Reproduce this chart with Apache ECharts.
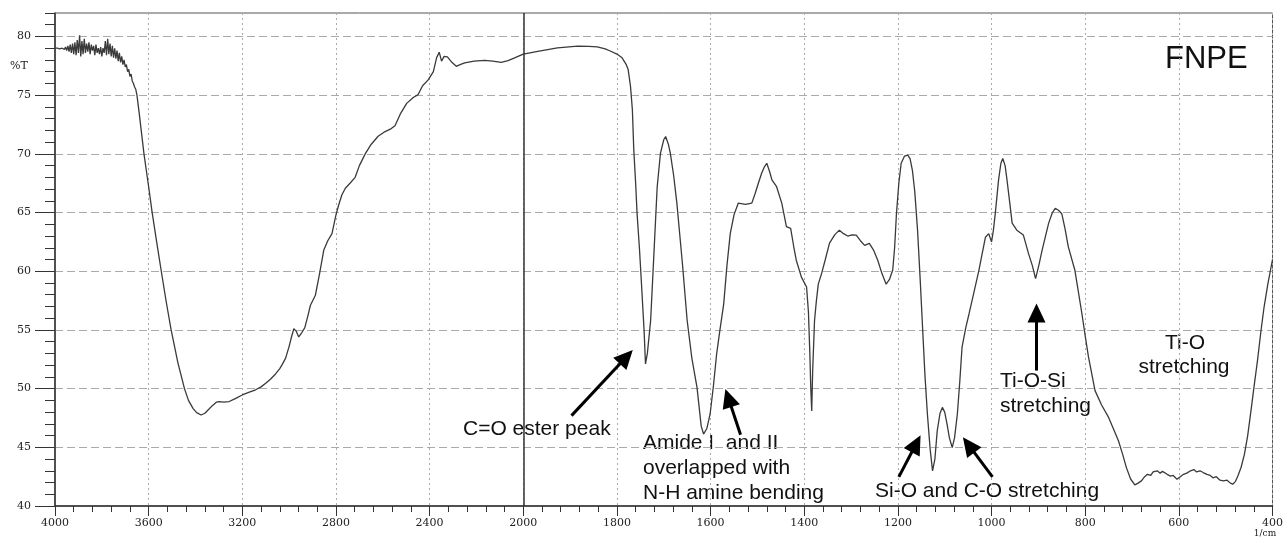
<!DOCTYPE html>
<html>
<head>
<meta charset="utf-8">
<title>FNPE FTIR</title>
<script src="https://cdn.jsdelivr.net/npm/echarts@6/dist/echarts.min.js"></script>
<style>
  html, body { margin: 0; padding: 0; background: #fff; }
  #chart { width: 1286px; height: 539px; }
</style>
</head>
<body>
<div id="chart"></div>
<script>
// x tick labels (1/cm); the axis changes scale at 2000
const xTicks = [4000, 3600, 3200, 2800, 2400, 2000, 1800, 1600, 1400, 1200, 1000, 800, 600, 400]
const yTicks = [40, 45, 50, 55, 60, 65, 70, 75, 80]

// spectrum: [wavenumber, %T]
const spectrum = [
  [4000, 79.0], [3990, 79.0], [3980, 78.95], [3970, 79.0], [3960, 78.9], [3955, 79.1], [3950, 78.8],
  [3945, 79.2], [3940, 78.7], [3935, 79.3], [3930, 78.6], [3925, 79.4], [3920, 78.5], [3915, 79.5],
  [3910, 78.4], [3905, 79.7], [3900, 78.6], [3895, 80.1], [3890, 78.3], [3885, 79.6], [3880, 78.5],
  [3875, 79.8], [3870, 78.6], [3865, 79.4], [3860, 78.7], [3855, 79.5], [3850, 78.5], [3845, 79.3],
  [3840, 78.8], [3835, 79.2], [3830, 78.4], [3825, 79.3], [3820, 78.6], [3815, 79.0], [3810, 78.5],
  [3805, 79.1], [3800, 78.3], [3795, 79.0], [3790, 78.6], [3785, 79.6], [3780, 78.4], [3775, 79.8],
  [3770, 78.5], [3765, 79.4], [3760, 78.3], [3755, 79.2], [3750, 78.2], [3745, 79.0], [3740, 78.1],
  [3735, 78.8], [3730, 77.9], [3725, 78.6], [3720, 77.8], [3715, 78.3], [3710, 77.6], [3705, 78.0],
  [3700, 77.4], [3695, 77.6], [3690, 77.0], [3685, 77.2], [3680, 76.6], [3675, 76.8], [3670, 76.2],
  [3665, 76.0], [3660, 75.7], [3655, 75.5], [3650, 75.0], [3640, 73.4], [3620, 70.0], [3600, 67.2],
  [3585, 65.0], [3565, 62.4], [3546, 60.0], [3525, 57.4], [3504, 55.0], [3475, 52.2], [3447, 50.0],
  [3430, 49.0], [3410, 48.3], [3395, 47.95], [3376, 47.75], [3360, 47.9], [3340, 48.3], [3328, 48.55],
  [3310, 48.85], [3299, 48.9], [3280, 48.85], [3256, 48.9], [3230, 49.15], [3200, 49.46], [3170, 49.7],
  [3143, 49.9], [3120, 50.15], [3100, 50.45], [3080, 50.8], [3058, 51.25], [3040, 51.7], [3031, 52.0],
  [3015, 52.6], [3000, 53.6], [2990, 54.4], [2980, 55.1], [2970, 54.9], [2959, 54.4], [2945, 54.8],
  [2933, 55.2], [2920, 56.2], [2909, 57.1], [2888, 57.95], [2870, 59.8], [2852, 61.8], [2835, 62.6],
  [2817, 63.2], [2800, 64.8], [2789, 65.6], [2775, 66.5], [2760, 67.07], [2740, 67.5], [2718, 68.0],
  [2700, 69.0], [2675, 70.0], [2650, 70.8], [2620, 71.5], [2590, 71.9], [2568, 72.1], [2548, 72.4],
  [2525, 73.4], [2498, 74.3], [2470, 74.8], [2449, 75.05], [2430, 75.8], [2406, 76.3], [2384, 77.0],
  [2370, 78.2], [2359, 78.66], [2349, 77.9], [2338, 78.3], [2324, 78.26], [2305, 77.8], [2286, 77.46],
  [2270, 77.6], [2250, 77.75], [2210, 77.9], [2165, 77.97], [2130, 77.9], [2094, 77.8], [2065, 77.95],
  [2037, 78.18], [2000, 78.5], [1969, 78.74], [1927, 79.03], [1884, 79.17], [1860, 79.15], [1842, 79.12],
  [1825, 78.95], [1813, 78.74], [1800, 78.5], [1789, 78.18], [1780, 77.6], [1776, 77.18], [1771, 75.75],
  [1767, 73.76], [1764, 70.34], [1760, 67.5], [1757, 64.93], [1752, 62.0], [1748, 59.23], [1742, 54.96],
  [1739, 52.1], [1735, 53.0], [1728, 55.8], [1721, 61.5], [1714, 67.2], [1707, 70.06], [1700, 71.2],
  [1696, 71.48], [1690, 70.8], [1686, 70.06], [1679, 68.2], [1672, 65.8], [1660, 60.6], [1650, 55.8],
  [1640, 52.6], [1629, 50.1], [1620, 46.8], [1615, 46.13], [1608, 46.6], [1601, 47.84], [1594, 50.2],
  [1587, 52.97], [1580, 55.0], [1572, 57.2], [1565, 60.5], [1558, 63.2], [1550, 64.8], [1541, 65.8],
  [1525, 65.7], [1512, 65.8], [1505, 66.6], [1498, 67.5], [1491, 68.35], [1485, 68.9], [1480, 69.2],
  [1474, 68.5], [1469, 67.78], [1459, 67.2], [1448, 65.8], [1438, 63.8], [1429, 63.65], [1422, 62.0],
  [1417, 60.94], [1406, 59.5], [1395, 58.66], [1391, 56.5], [1388, 52.97], [1386, 50.0], [1384, 48.1],
  [1382, 51.5], [1378, 55.8], [1374, 57.5], [1370, 58.9], [1363, 59.8], [1355, 61.0], [1346, 62.4],
  [1335, 63.1], [1325, 63.5], [1316, 63.2], [1307, 63.0], [1298, 63.1], [1289, 63.08], [1280, 62.6],
  [1271, 62.2], [1261, 62.37], [1252, 61.8], [1243, 60.94], [1234, 59.8], [1225, 58.9], [1218, 59.3],
  [1211, 60.1], [1207, 62.0], [1203, 64.93], [1198, 67.5], [1193, 69.2], [1186, 69.8], [1179, 69.9],
  [1174, 69.6], [1169, 68.6], [1164, 66.8], [1158, 63.5], [1152, 59.0], [1147, 54.96], [1142, 51.0],
  [1137, 47.84], [1131, 44.8], [1126, 42.99], [1121, 44.0], [1116, 46.4], [1110, 47.9], [1105, 48.4],
  [1100, 48.0], [1095, 46.98], [1090, 45.8], [1084, 44.98], [1079, 45.8], [1073, 47.84], [1068, 50.5],
  [1063, 53.53], [1055, 55.2], [1048, 56.38], [1037, 58.3], [1027, 60.08], [1020, 61.5], [1013, 62.9],
  [1006, 63.2], [1000, 62.5], [996, 63.5], [992, 64.93], [985, 67.78], [980, 69.2], [976, 69.6],
  [971, 69.0], [967, 67.78], [961, 65.8], [956, 64.1], [946, 63.5], [932, 63.08], [921, 61.5],
  [913, 60.5], [906, 59.37], [899, 60.5], [892, 61.8], [878, 64.1], [870, 65.0], [864, 65.36],
  [857, 65.2], [850, 64.9], [843, 63.6], [836, 62.08], [822, 60.08], [807, 56.38], [800, 54.5],
  [793, 52.7], [779, 49.83], [765, 48.6], [750, 47.55], [740, 46.6], [729, 45.56], [720, 44.4],
  [712, 43.27], [703, 42.3], [694, 41.8], [687, 41.95], [680, 42.14], [673, 42.5], [667, 42.7],
  [660, 42.6], [655, 42.9], [646, 43.0], [640, 42.8], [635, 42.95], [625, 42.7], [618, 42.55],
  [612, 42.6], [604, 42.28], [597, 42.5], [590, 42.7], [583, 42.8], [575, 43.0], [568, 43.1],
  [562, 42.9], [555, 43.0], [548, 42.85], [540, 42.7], [533, 42.6], [527, 42.4], [520, 42.5],
  [512, 42.2], [505, 42.14], [497, 42.2], [490, 41.95], [485, 41.86], [479, 42.1], [474, 42.56],
  [467, 43.3], [460, 44.4], [453, 46.0], [446, 48.1], [439, 50.3], [432, 52.4], [425, 54.8],
  [418, 56.95], [410, 58.9], [400, 61.0]
]

// arrows: [[tail wavenumber, tail %T], [head wavenumber, head %T]]
const arrows = [
  [[1897, 47.7], [1780, 52.7]],
  [[1536, 46.07], [1562, 49.2]],
  [[904, 51.54], [904, 56.45]],
  [[1198, 42.48], [1161, 45.3]],
  [[998, 42.48], [1049, 45.2]]
]

// wavenumber -> position on the piecewise axis (0..13)
const toAxis = (w) => (w >= 2000 ? (4000 - w) / 400 : 5 + (2000 - w) / 200)
const fromAxis = (u) => (u <= 5 ? 4000 - 400 * u : 2000 - 200 * (u - 5))

const chart = echarts.init(document.getElementById('chart'), null, { renderer: 'canvas' })

const labelFont = { color: '#222', fontFamily: 'DejaVu Serif', fontSize: 11 }
const noteFont = { fill: '#111', fontFamily: 'Liberation Sans', fontSize: 21 }

const text = (x, y, s, align = 'left', size) => ({
  type: 'text',
  x, y,
  style: Object.assign({}, noteFont, { text: s, align, verticalAlign: 'middle' }, size ? { fontSize: size } : {})
})

chart.setOption({
  animation: false,
  backgroundColor: '#fff',
  grid: {
    left: 55, right: 7, top: 13, bottom: 33,
    show: true, borderColor: '#555', borderWidth: 1
  },
  xAxis: {
    type: 'value',
    min: 0, max: 13, interval: 1,
    axisLine: { lineStyle: { color: '#333', width: 1.5 } },
    axisTick: { length: 10, lineStyle: { color: '#333' } },
    minorTick: { show: true, splitNumber: 5, length: 6, lineStyle: { color: '#333' } },
    axisLabel: {
      ...labelFont, margin: 12,
      formatter: (v) => {
        const w = Math.round(fromAxis(v))
        return xTicks.includes(w) ? String(w) : ''
      }
    },
    splitLine: { show: true, lineStyle: { color: '#aaa', type: [2, 3], width: 1 } }
  },
  yAxis: [
    {
      type: 'value',
      min: 40, max: 82, interval: 5,
      position: 'left',
      axisLine: { show: true, lineStyle: { color: '#333', width: 1.5 } },
      axisTick: { show: true, length: 20, customValues: yTicks, lineStyle: { color: '#333' } },
      axisLabel: { ...labelFont, margin: 24, customValues: yTicks },
      splitLine: { show: true, lineStyle: { color: '#aaa', type: [8, 4], width: 1 } }
    },
    {
      type: 'value',
      min: 40, max: 82, interval: 1,
      position: 'left',
      axisLine: { show: false },
      axisTick: { show: true, length: 10, lineStyle: { color: '#333' } },
      axisLabel: { show: false },
      splitLine: { show: false }
    }
  ],
  series: [{
    type: 'line',
    yAxisIndex: 0,
    data: spectrum.map(([w, t]) => [toAxis(w), t]),
    showSymbol: false,
    smooth: false,
    lineStyle: { color: '#3a3a3a', width: 1.3 },
    markLine: {
      silent: true,
      label: { show: false },
      emphasis: { disabled: true },
      data: [
        [
          { coord: [5, 82], symbol: 'none', lineStyle: { color: '#333', width: 1.5, type: 'solid' } },
          { coord: [5, 40], symbol: 'none' }
        ],
        ...arrows.map(([a, b]) => [
          { coord: [toAxis(a[0]), a[1]], symbol: 'none', lineStyle: { color: '#000', width: 3, type: 'solid' } },
          { coord: [toAxis(b[0]), b[1]], symbol: 'triangle', symbolSize: [18, 19] }
        ])
      ]
    }
  }],
  graphic: [
    { type: 'text', x: 10, y: 66, style: { text: '%T', fill: '#222', fontFamily: 'DejaVu Serif', fontSize: 11, verticalAlign: 'middle' } },
    { type: 'text', x: 1265, y: 534, style: { text: '1/cm', fill: '#222', fontFamily: 'DejaVu Serif', fontSize: 9, align: 'center', verticalAlign: 'middle' } },
    text(1165, 59, 'FNPE', 'left', 31),
    text(463, 429, 'C=O ester peak'),
    text(643, 443, 'Amide I  and II'),
    text(643, 468, 'overlapped with'),
    text(643, 493, 'N-H amine bending'),
    text(875, 491, 'Si-O and C-O stretching'),
    text(1000, 381, 'Ti-O-Si'),
    text(1000, 406, 'stretching'),
    text(1185, 343, 'Ti-O', 'center'),
    text(1184, 367, 'stretching', 'center')
  ]
})

window.addEventListener('resize', () => chart.resize())
</script>
</body>
</html>
